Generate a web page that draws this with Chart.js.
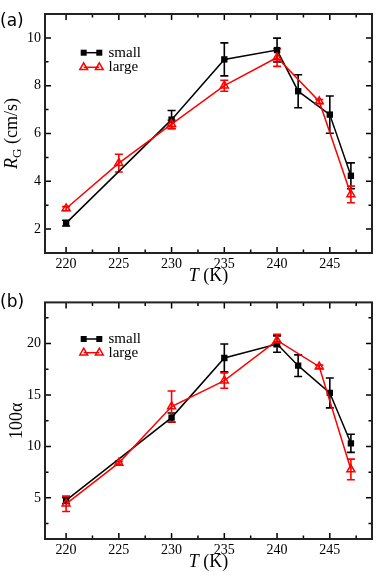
<!DOCTYPE html>
<html>
<head>
<meta charset="utf-8">
<script src="https://cdn.jsdelivr.net/npm/chart.js@4"></script>
<style>
  html, body { margin: 0; padding: 0; background: #fff; }
  #wrap { position: relative; width: 388px; height: 585px; }
  canvas { position: absolute; left: 0; }
  #chartA { top: 0; }
  #chartB { top: 290px; }
</style>
</head>
<body>
<div id="wrap">
  <canvas id="chartA" width="388" height="290"></canvas>
  <canvas id="chartB" width="388" height="295"></canvas>
</div>
<script>
// temperatures of the two runs (K)
const smallT = [220, 230, 235, 240, 242, 245, 247];
const largeT = [220, 225, 230, 235, 240, 244, 247];

// (a) growth rate R_G (cm/s)
const smallRG    = [2.25, 6.58, 9.10, 9.49, 7.77, 6.79, 4.23];
const smallRGErr = [0.12, 0.38, 0.69, 0.50, 0.69, 0.78, 0.54];
const largeRG    = [2.86, 4.76, 6.39, 8.00, 9.18, 7.34, 3.45];
const largeRGErr = [0.08, 0.37, 0.17, 0.23, 0.37, 0.08, 0.35];

// (b) 100 alpha
const smallAlpha    = [4.75, 12.80, 18.60, 19.95, 17.85, 15.20, 10.30];
const smallAlphaErr = [0.30, 0.45, 1.35, 0.80, 1.05, 1.45, 0.88];
const largeAlpha    = [4.42, 8.40, 13.88, 16.40, 20.30, 17.75, 7.76];
const largeAlphaErr = [0.75, 0.15, 1.50, 0.75, 0.60, 0.15, 1.00];

// ticks
const xTicks = [220, 225, 230, 235, 240, 245];
const xMinor = [222.5, 227.5, 232.5, 237.5, 242.5, 247.5];
const rgTicks = [2, 4, 6, 8, 10];
const rgMinor = [3, 5, 7, 9];
const alphaTicks = [5, 10, 15, 20];
const alphaMinor = [2.5, 7.5, 12.5, 17.5, 22.5];

const seriesNames = ["small", "large"];
const RED = "#ff0000";
const SERIF = "'Liberation Serif', 'Times New Roman', serif";

Chart.defaults.font.family = SERIF;
Chart.defaults.color = "#000";

function pts(xs, ys) {
    return xs.map((x, i) => ({ x: x, y: ys[i] }));
}

function drawSquare(ctx, x, y, s) {
    ctx.fillStyle = "#000";
    ctx.fillRect(x - s / 2, y - s / 2, s, s);
}

function drawTriangle(ctx, x, y, r) {
    ctx.beginPath();
    ctx.moveTo(x, y - r);
    ctx.lineTo(x + r * 0.866, y + r / 2);
    ctx.lineTo(x - r * 0.866, y + r / 2);
    ctx.closePath();
    ctx.strokeStyle = RED;
    ctx.lineWidth = 1.5;
    ctx.stroke();
}

// frame, inner ticks, error bars, titles and legend
const panelPlugin = {
    id: "panel",
    beforeDatasetsDraw(chart, args, o) {
        const ctx = chart.ctx;
        const ys = chart.scales.y;
        ctx.save();
        chart.data.datasets.forEach((ds, i) => {
            const meta = chart.getDatasetMeta(i);
            ctx.strokeStyle = ds.borderColor;
            ctx.lineWidth = 1.6;
            meta.data.forEach((p, j) => {
                const v = ds.data[j].y, e = ds.err[j];
                const top = ys.getPixelForValue(v + e);
                const bot = ys.getPixelForValue(v - e);
                ctx.beginPath();
                ctx.moveTo(p.x, top); ctx.lineTo(p.x, bot);
                ctx.moveTo(p.x - 4, top); ctx.lineTo(p.x + 4, top);
                ctx.moveTo(p.x - 4, bot); ctx.lineTo(p.x + 4, bot);
                ctx.stroke();
            });
        });
        ctx.restore();
    },
    afterDraw(chart, args, o) {
        const ctx = chart.ctx;
        const a = chart.chartArea;
        const xs = chart.scales.x, ys = chart.scales.y;
        ctx.save();

        // ticks on all four sides, pointing in
        ctx.strokeStyle = "#000";
        ctx.lineWidth = 1.5;
        ctx.beginPath();
        const xt = (list, len) => list.forEach(v => {
            const px = xs.getPixelForValue(v);
            ctx.moveTo(px, a.bottom); ctx.lineTo(px, a.bottom - len);
            ctx.moveTo(px, a.top); ctx.lineTo(px, a.top + len);
        });
        const yt = (list, len) => list.forEach(v => {
            const py = ys.getPixelForValue(v);
            ctx.moveTo(a.left, py); ctx.lineTo(a.left + len, py);
            ctx.moveTo(a.right, py); ctx.lineTo(a.right - len, py);
        });
        xt(xTicks, 6); xt(xMinor, 3.5);
        yt(o.yMajor, 6); yt(o.yMinor, 3.5);
        ctx.stroke();

        // frame
        ctx.strokeStyle = "#222";
        ctx.lineWidth = 2;
        ctx.strokeRect(a.left, a.top, a.right - a.left, a.bottom - a.top);

        // x title: T (K)
        ctx.fillStyle = "#000";
        ctx.textBaseline = "alphabetic";
        ctx.textAlign = "left";
        const fI = "italic 18px " + SERIF, fN = "18px " + SERIF;
        ctx.font = fI; const wT = ctx.measureText("T").width;
        ctx.font = fN; const wK = ctx.measureText(" (K)").width;
        let x0 = (a.left + a.right) / 2 - (wT + wK) / 2;
        const by = a.bottom + 28;
        ctx.font = fI; ctx.fillText("T", x0, by);
        ctx.font = fN; ctx.fillText(" (K)", x0 + wT, by);

        // y title
        ctx.save();
        ctx.translate(o.yTitleX, (a.top + a.bottom) / 2);
        ctx.rotate(-Math.PI / 2);
        o.yTitle(ctx);
        ctx.restore();

        // panel label
        ctx.font = "17px 'DejaVu Sans', sans-serif";
        ctx.fillText(o.label, 0, o.labelY);

        // legend
        const lx0 = 83.7, lx1 = 99.3;
        const [ly0, ly1] = o.legendY;
        ctx.lineWidth = 1.5;
        ctx.strokeStyle = "#000";
        ctx.beginPath(); ctx.moveTo(lx0, ly0); ctx.lineTo(lx1, ly0); ctx.stroke();
        drawSquare(ctx, lx0, ly0, 6); drawSquare(ctx, lx1, ly0, 6);
        ctx.strokeStyle = RED;
        ctx.beginPath(); ctx.moveTo(lx0, ly1); ctx.lineTo(lx1, ly1); ctx.stroke();
        drawTriangle(ctx, lx0, ly1, 4.5); drawTriangle(ctx, lx1, ly1, 4.5);
        ctx.fillStyle = "#000";
        ctx.font = "15px " + SERIF;
        ctx.fillText(seriesNames[0], 108.5, ly0 + 3.8);
        ctx.fillText(seriesNames[1], 108.5, ly1 + 3.8);

        ctx.restore();
    }
};

function buildPanel(canvas, cfg) {
    return new Chart(canvas, {
        type: "line",
        data: {
            datasets: [{
                label: seriesNames[0],
                data: pts(smallT, cfg.small),
                err: cfg.smallErr,
                borderColor: "#000",
                backgroundColor: "#000",
                borderWidth: 1.5,
                pointStyle: "rect",
                pointRadius: 4.5,
                pointBorderWidth: 0,
                tension: 0,
                order: 1
            }, {
                label: seriesNames[1],
                data: pts(largeT, cfg.large),
                err: cfg.largeErr,
                borderColor: RED,
                backgroundColor: "rgba(0,0,0,0)",
                borderWidth: 1.5,
                pointStyle: "triangle",
                pointRadius: 4.6,
                pointBorderWidth: 1.5,
                tension: 0,
                order: 0
            }]
        },
        options: {
            responsive: false,
            animation: false,
            devicePixelRatio: 1,
            layout: { padding: { top: cfg.padTop, right: 16, left: 0, bottom: 0 } },
            plugins: {
                legend: { display: false },
                tooltip: { enabled: false },
                panel: cfg.panel
            },
            scales: {
                x: {
                    type: "linear",
                    min: 218, max: 249,
                    grid: { display: false, drawTicks: false },
                    border: { display: false },
                    ticks: { font: { size: 14 }, padding: 3, color: "#000" },
                    afterBuildTicks: s => { s.ticks = xTicks.map(v => ({ value: v })); },
                    afterFit: s => { s.height = cfg.xHeight; }
                },
                y: {
                    type: "linear",
                    min: cfg.yMin, max: cfg.yMax,
                    grid: { display: false, drawTicks: false },
                    border: { display: false },
                    ticks: { font: { size: 14 }, padding: 4, color: "#000" },
                    afterBuildTicks: s => { s.ticks = cfg.panel.yMajor.map(v => ({ value: v })); },
                    afterFit: s => { s.width = 45; }
                }
            }
        },
        plugins: [panelPlugin]
    });
}

buildPanel(document.getElementById("chartA"), {
    small: smallRG, smallErr: smallRGErr,
    large: largeRG, largeErr: largeRGErr,
    yMin: 1, yMax: 11, padTop: 14, xHeight: 37,
    panel: {
        yMajor: rgTicks, yMinor: rgMinor,
        label: "(a)", labelY: 25.5,
        legendY: [52.7, 67.3],
        yTitleX: 17,
        yTitle: ctx => {
            ctx.fillStyle = "#000";
            ctx.textBaseline = "alphabetic";
            const fR = "italic 18px " + SERIF, fG = "13px " + SERIF, fN = "18px " + SERIF;
            ctx.font = fR; const w1 = ctx.measureText("R").width;
            ctx.font = fG; const w2 = ctx.measureText("G").width;
            ctx.font = fN; const w3 = ctx.measureText(" (cm/s)").width;
            let x = -(w1 + w2 + w3) / 2;
            ctx.font = fR; ctx.fillText("R", x, 0); x += w1;
            ctx.font = fG; ctx.fillText("G", x, 4); x += w2;
            ctx.font = fN; ctx.fillText(" (cm/s)", x, 0);
        }
    }
});

buildPanel(document.getElementById("chartB"), {
    small: smallAlpha, smallErr: smallAlphaErr,
    large: largeAlpha, largeErr: largeAlphaErr,
    yMin: 1, yMax: 24, padTop: 12, xHeight: 46,
    panel: {
        yMajor: alphaTicks, yMinor: alphaMinor,
        label: "(b)", labelY: 17,
        legendY: [49, 62.7],
        yTitleX: 22,
        yTitle: ctx => {
            ctx.fillStyle = "#000";
            ctx.textBaseline = "alphabetic";
            ctx.textAlign = "center";
            ctx.font = "18px " + SERIF;
            ctx.fillText("100\u03b1", 0, 0);
        }
    }
});
</script>
</body>
</html>
